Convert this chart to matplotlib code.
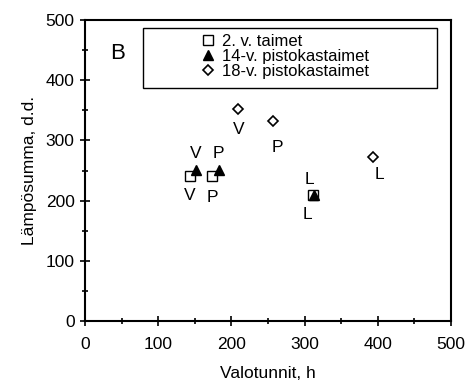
import matplotlib
matplotlib.use("Agg")
import matplotlib.pyplot as plt
from matplotlib.patches import Rectangle
from matplotlib.ticker import MultipleLocator

plt.rcParams['font.family'] = ['Liberation Sans', 'DejaVu Sans']

# data
labels_pt = ["V", "P", "L"]
x_taimet = [143, 173, 311]
y_taimet = [241, 241, 210]
x_pisto14 = [152, 183, 313]
y_pisto14 = [251, 251, 210]
x_pisto18 = [209, 257, 393]
y_pisto18 = [352, 332, 272]
series_names = ["2. v. taimet", "14-v. pistokastaimet", "18-v. pistokastaimet"]

fig = plt.figure(figsize=(4.65, 3.87), dpi=100)
ax = fig.add_axes([85/465, (387-321)/387, 366/465, 301/387])

ax.plot(x_taimet, y_taimet, ls='none', marker='s', ms=7, mfc='white', mec='black', mew=1.0,
        label=series_names[0], zorder=3)
ax.plot(x_pisto14, y_pisto14, ls='none', marker='^', ms=7.5, mfc='black', mec='black',
        label=series_names[1], zorder=4)
ax.plot(x_pisto18, y_pisto18, ls='none', marker='D', ms=5, mfc='white', mec='black', mew=1.2,
        label=series_names[2], zorder=3)

px = 0.72  # points per pixel
off_taimet = [(0, -20), (1, -22), (-5, -20)]
off_pisto14 = [(-1, 16), (-1, 16), (-5, 15)]
off_pisto18 = [(1, -20), (4, -26), (7, -17)]
for xs, ys, offs in [(x_taimet, y_taimet, off_taimet),
                     (x_pisto14, y_pisto14, off_pisto14),
                     (x_pisto18, y_pisto18, off_pisto18)]:
    for lab, x, y, (dx, dy) in zip(labels_pt, xs, ys, offs):
        ax.annotate(lab, (x, y), xytext=(dx*px, dy*px), textcoords='offset points',
                    ha='center', va='center', fontsize=12.5)

ax.set_xlim(0, 500)
ax.set_ylim(0, 500)
ax.xaxis.set_major_locator(MultipleLocator(100))
ax.xaxis.set_minor_locator(MultipleLocator(50))
ax.yaxis.set_major_locator(MultipleLocator(100))
ax.yaxis.set_minor_locator(MultipleLocator(50))
ax.tick_params(which='major', direction='inout', length=7, width=1.2, labelsize=12.5, pad=8)
ax.tick_params(which='minor', direction='inout', length=5, width=1.2)
ax.tick_params(axis='y', pad=4)
for s in ax.spines.values():
    s.set_linewidth(1.5)

ax.set_xlabel("Valotunnit, h", fontsize=12.5, labelpad=10)
ax.set_ylabel("Lämpösumma, d.d.", fontsize=12.5, labelpad=6)

ax.text(0.088, 0.89, "B", transform=ax.transAxes, fontsize=16, ha='center', va='center')

# legend box
ax.add_patch(Rectangle((0.158, 0.775), 0.803, 0.198, transform=ax.transAxes,
                       fill=False, ec='black', lw=1.0, zorder=5))
leg = ax.legend(loc='upper left', bbox_to_anchor=(0.31, 0.965), frameon=False,
                fontsize=12, handlelength=0.8, handletextpad=0.4, labelspacing=0.0,
                borderaxespad=0, borderpad=0.2)

fig.savefig("out.png", dpi=100)
